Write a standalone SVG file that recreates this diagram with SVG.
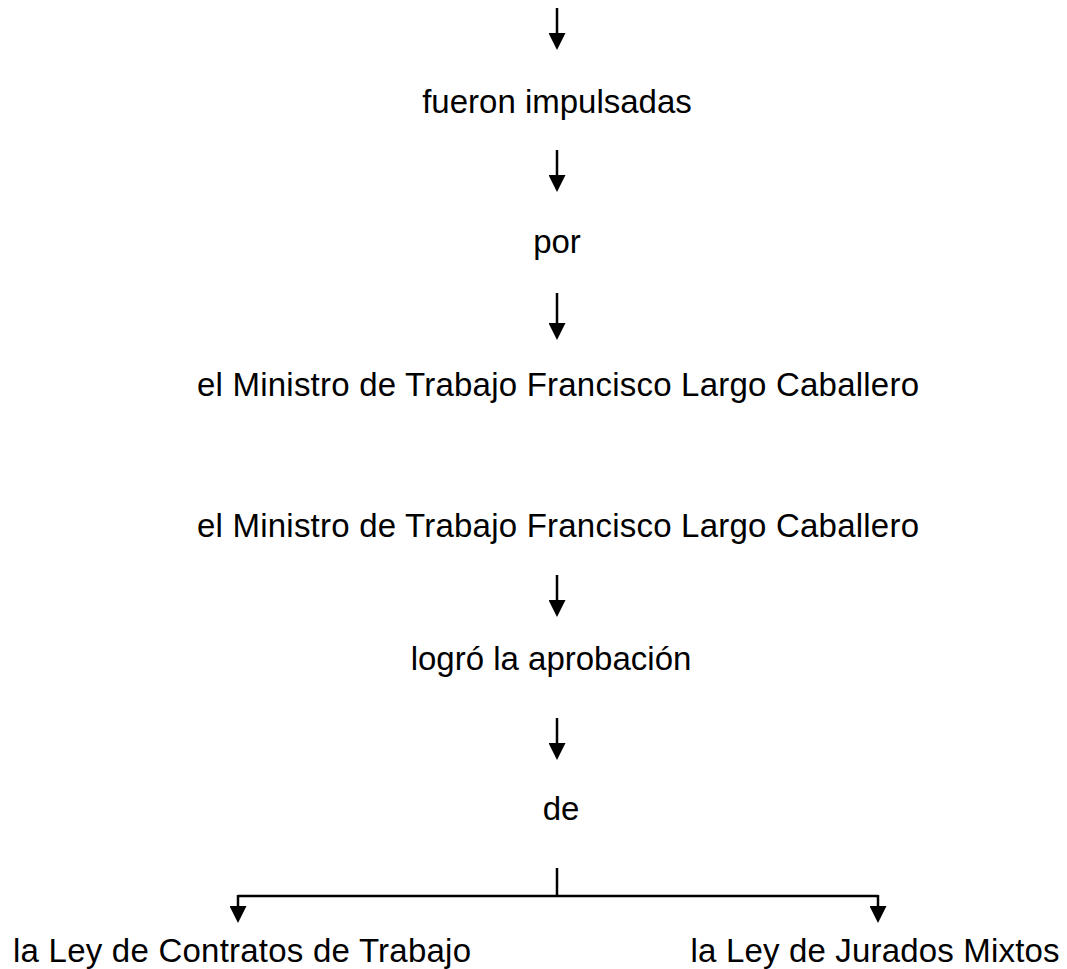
<svg xmlns="http://www.w3.org/2000/svg" width="1067" height="969" viewBox="0 0 1067 969">
<style>
text{font-family:"Liberation Sans",Arial,sans-serif;font-size:33px;fill:#000;text-anchor:middle}
.c line{stroke:#000;stroke-width:2.5;fill:none}
</style>
<defs>
<marker id="ah" markerUnits="userSpaceOnUse" markerWidth="18" markerHeight="17" refX="7" refY="8.5" orient="auto" viewBox="0 0 18 17">
<path d="M0,0 L17,8.5 L0,17 z" fill="#000"/>
</marker>
</defs>
<rect width="1067" height="969" fill="#fff"/>
<g class="c" id="connectors">
<line x1="557" y1="8" x2="557" y2="40" marker-end="url(#ah)"/>
<line x1="557" y1="150" x2="557" y2="182" marker-end="url(#ah)"/>
<line x1="557" y1="293" x2="557" y2="330" marker-end="url(#ah)"/>
<line x1="557" y1="575" x2="557" y2="607" marker-end="url(#ah)"/>
<line x1="557" y1="718" x2="557" y2="750" marker-end="url(#ah)"/>
<line x1="557" y1="868" x2="557" y2="896"/>
<line x1="238" y1="896" x2="878" y2="896"/>
<line x1="238" y1="895" x2="238" y2="913" marker-end="url(#ah)"/>
<line x1="878" y1="895" x2="878" y2="913" marker-end="url(#ah)"/>
</g>
<g id="n1"><text x="557" y="113">fueron impulsadas</text></g>
<g id="n2"><text x="557" y="253">por</text></g>
<g id="n3"><text x="558" y="396" textLength="722">el Ministro de Trabajo Francisco Largo Caballero</text></g>
<g id="n4"><text x="558" y="537" textLength="722">el Ministro de Trabajo Francisco Largo Caballero</text></g>
<g id="n5"><text x="551" y="670">logró la aprobación</text></g>
<g id="n6"><text x="561" y="820">de</text></g>
<g id="n7"><text x="242" y="962" textLength="458">la Ley de Contratos de Trabajo</text></g>
<g id="n8"><text x="875" y="962" textLength="369">la Ley de Jurados Mixtos</text></g>
</svg>
